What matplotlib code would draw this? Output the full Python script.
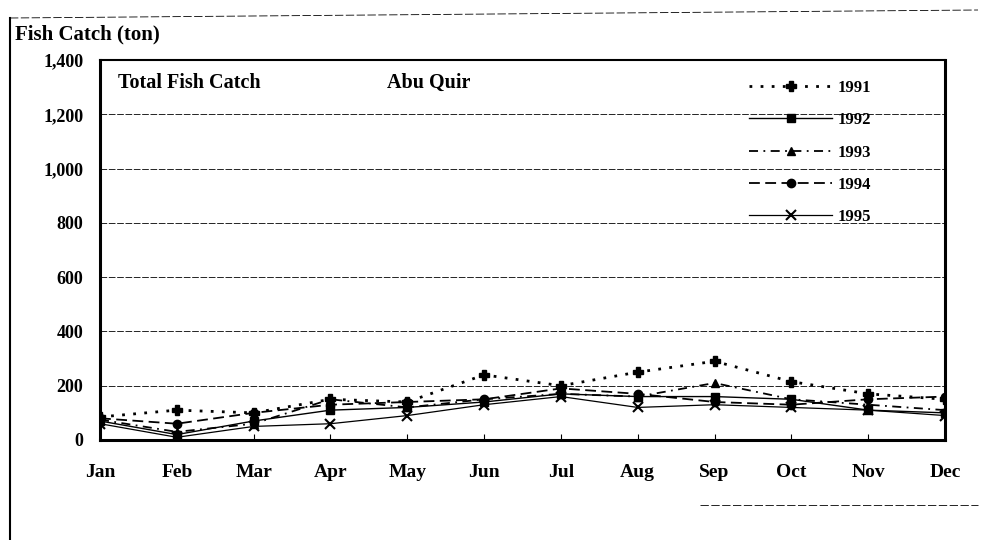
import matplotlib.pyplot as plt
from matplotlib.lines import Line2D

months = ["Jan", "Feb", "Mar", "Apr", "May", "Jun", "Jul", "Aug", "Sep", "Oct", "Nov", "Dec"]
c1991 = [85, 110, 100, 150, 140, 240, 200, 250, 290, 215, 170, 150]
c1992 = [70, 20, 70, 110, 120, 140, 170, 160, 160, 150, 110, 100]
c1993 = [75, 30, 60, 150, 120, 150, 170, 160, 210, 150, 130, 110]
c1994 = [80, 60, 100, 130, 140, 150, 190, 170, 140, 130, 150, 160]
c1995 = [60, 10, 50, 60, 90, 130, 160, 120, 130, 120, 110, 90]
yticks = [0, 200, 400, 600, 800, 1000, 1200, 1400]

plt.rcParams['font.family'] = ['Liberation Serif', 'DejaVu Serif']
plt.rcParams['font.weight'] = 'bold'

fig = plt.figure(figsize=(9.82, 5.4), dpi=100)
ax = fig.add_axes([100/982, 1-440/540, 845/982, 380/540])

x = range(len(months))
ax.plot(x, c1991, color='black', linestyle=(0, (1, 3)), linewidth=2, marker='P', markersize=7, label='1991')
ax.plot(x, c1992, color='black', linestyle='-', linewidth=1, marker='s', markersize=6, label='1992')
ax.plot(x, c1993, color='black', linestyle=(0, (5, 3, 1, 3)), linewidth=1.3, marker='^', markersize=6, label='1993')
ax.plot(x, c1994, color='black', linestyle=(0, (6, 3)), linewidth=1.3, marker='o', markersize=6, label='1994')
ax.plot(x, c1995, color='black', linestyle='-', linewidth=0.9, marker='x', markersize=7, markeredgewidth=1.5, label='1995')

ax.set_xlim(0, 11)
ax.set_ylim(0, 1400)
ax.set_yticks(yticks)
ax.set_yticklabels([f"{v:,}" for v in yticks], fontsize=13, fontweight='bold')
ax.set_xticks(list(x))
ax.set_xticklabels(months, fontsize=14, fontweight='bold')
ax.tick_params(axis='x', direction='in', length=4, pad=17)
ax.tick_params(axis='y', length=0, pad=12)
ax.yaxis.grid(True, color='black', linewidth=0.6, linestyle=(0, (8, 2)))
ax.set_axisbelow(True)
for s in ax.spines.values():
    s.set_linewidth(2.2)
    s.set_color('black')
ax.spines['top'].set_linewidth(1.5)

ax.text(0.021, 0.965, "Total Fish Catch", transform=ax.transAxes, fontsize=14.5, fontweight='bold', va='top')
ax.text(0.34, 0.965, "Abu Quir", transform=ax.transAxes, fontsize=14.5, fontweight='bold', va='top')
fig.text(15/982, 1-34/540, "Fish Catch (ton)", fontsize=15, fontweight='bold', va='center')

leg = ax.legend(loc='upper right', bbox_to_anchor=(0.93, 0.987), frameon=False, fontsize=12,
                handlelength=5, labelspacing=0.98, handletextpad=0.3)

# scanned page frame
fig.add_artist(Line2D([10/982, 10/982], [1-18/540, 0], color='black', linewidth=1.5))
fig.add_artist(Line2D([10/982, 978/982], [1-18/540, 1-10/540], color='black', linewidth=0.6, linestyle=(0, (10, 3))))
fig.add_artist(Line2D([700/982, 978/982], [1-505/540, 1-505/540], color='black', linewidth=0.6, linestyle=(0, (10, 3))))

fig.savefig("out.png", dpi=100)
